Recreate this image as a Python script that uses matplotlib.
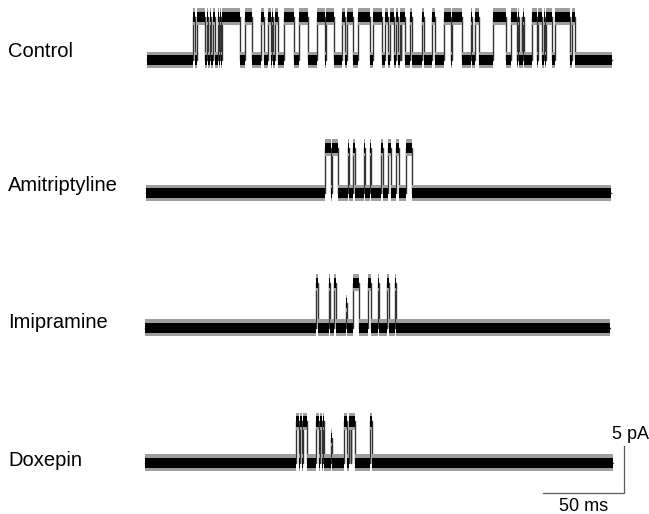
import numpy as np
import matplotlib
matplotlib.use("Agg")
import matplotlib.pyplot as plt

plt.rcParams['font.family'] = ['Liberation Sans', 'DejaVu Sans']

# Trace names and closed-level offsets (pA, stacked)
names = ["Control", "Amitriptyline", "Imipramine", "Doxepin"]
baselines = [48.3, 34.15, 19.8, 5.45]
amplitudes = [4.6, 4.8, 4.8, 4.4]          # single channel amplitude (pA)
label_dy = [0.9, 0.75, 0.6, 0.25]
spans = [(1.5, 288.0), (0.6, 287.7), (0.0, 287.0), (0.0, 288.9)]   # ms

# Openings as (start ms, end ms, fraction of full level)
control_open = [
    (29.9, 30.6, 1), (32.4, 37.0, 1), (38.0, 38.6, 1), (40.1, 40.7, 1),
    (41.7, 43.5, 1), (45.1, 45.7, 1), (46.3, 46.9, 1), (47.5, 58.6, 1),
    (61.7, 66.0, 1), (71.9, 73.5, 1), (75.9, 77.5, 1), (78.1, 79.0, 1),
    (80.2, 82.1, 1), (85.8, 91.7, 1), (95.1, 100.9, 1), (105.9, 111.1, 1),
    (111.7, 116.4, 1), (121.3, 123.5, 1), (124.4, 128.4, 1), (131.5, 138.9, 1),
    (141.0, 146.0, 1), (148.1, 150.0, 1), (151.2, 153.7, 1), (155.2, 155.9, 1),
    (157.4, 158.0, 1), (158.3, 160.5, 1), (163.6, 164.8, 1), (170.7, 172.5, 1),
    (176.9, 179.0, 1), (184.3, 188.9, 1), (189.8, 195.4, 1), (201.2, 201.9, 1),
    (203.7, 206.2, 1), (214.5, 223.1, 1), (226.2, 229.6, 1), (230.2, 230.9, 1),
    (232.4, 233.0, 1), (233.3, 234.0, 1), (238.6, 242.0, 1), (242.6, 244.8, 1),
    (246.3, 246.9, 1), (247.8, 251.2, 1), (252.8, 262.3, 1), (263.3, 265.4, 1),
]
amitriptyline_open = [
    (111.4, 115.1, 1), (115.7, 119.1, 1), (125.6, 126.2, 1), (128.1, 129.9, 1),
    (134.9, 135.5, 1), (138.9, 139.5, 1), (145.4, 147.2, 1), (150.3, 151.9, 1),
    (154.9, 156.5, 1), (161.4, 165.1, 1),
]
imipramine_open = [
    (105.6, 107.0, 1), (113.3, 114.1, 1), (116.5, 118.0, 1), (124.1, 124.7, 0.55),
    (128.1, 132.0, 1), (137.7, 139.5, 1), (143.8, 144.6, 1), (149.3, 150.9, 1),
    (154.2, 154.9, 1),
]
doxepin_open = [
    (93.5, 95.1, 1), (95.7, 97.2, 1), (97.8, 99.7, 1), (105.6, 107.7, 1),
    (108.0, 109.3, 1), (109.9, 110.8, 1), (115.0, 115.6, 0.6), (122.8, 124.7, 1),
    (125.9, 126.9, 1), (127.2, 129.6, 1), (138.8, 140.0, 1),
]
openings = [control_open, amitriptyline_open, imipramine_open, doxepin_open]

# Scale bar: 50 ms, 5 pA
bar_ms = 50
bar_pa = 5
bar_x0, bar_y0 = 245.7, 2.23


def step_trace(start, end, events):
    t = [start]
    lv = [0.0]
    for s, e, f in events:
        t += [s, e]
        lv += [f, 0.0]
    t.append(end)
    lv.append(0.0)
    return np.array(t), np.array(lv)


fig = plt.figure(figsize=(6.49, 5.14), dpi=100)
ax = fig.add_axes([0, 0, 1, 1])
ax.set_xlim(-89.5, 311.1)
ax.set_ylim(0, 54.68)
ax.axis('off')

for name, base, amp, dy, (t0, t1), ev in zip(names, baselines, amplitudes,
                                              label_dy, spans, openings):
    t, lv = step_trace(t0, t1, ev)
    y = base + amp * lv
    # transitions, drawn underneath the noise band
    ax.plot(t, y, drawstyle='steps-post', color='0.2', lw=1.0, zorder=1)
    # noise band: grey fringe + dark core
    ax.fill_between(t, y - 0.9, y + 0.9, step='post', color='0.62', lw=0, zorder=2)
    ax.fill_between(t, y - 0.55, y + 0.55, step='post', color='black', lw=0, zorder=3)
    ax.text(-84.6, base + dy, name, fontsize=14.5, ha='left', va='center')

# scale bar
ax.plot([bar_x0, bar_x0 + bar_ms, bar_x0 + bar_ms],
        [bar_y0, bar_y0, bar_y0 + bar_pa], color='0.35', lw=0.9)
ax.text(bar_x0 + bar_ms - 7.7, bar_y0 + bar_pa + 1.25, "5 pA",
        fontsize=13, ha='left', va='center')
ax.text(bar_x0 + bar_ms / 2, 0.85, "50 ms", fontsize=13, ha='center', va='center')

fig.savefig("out.png", dpi=100)
